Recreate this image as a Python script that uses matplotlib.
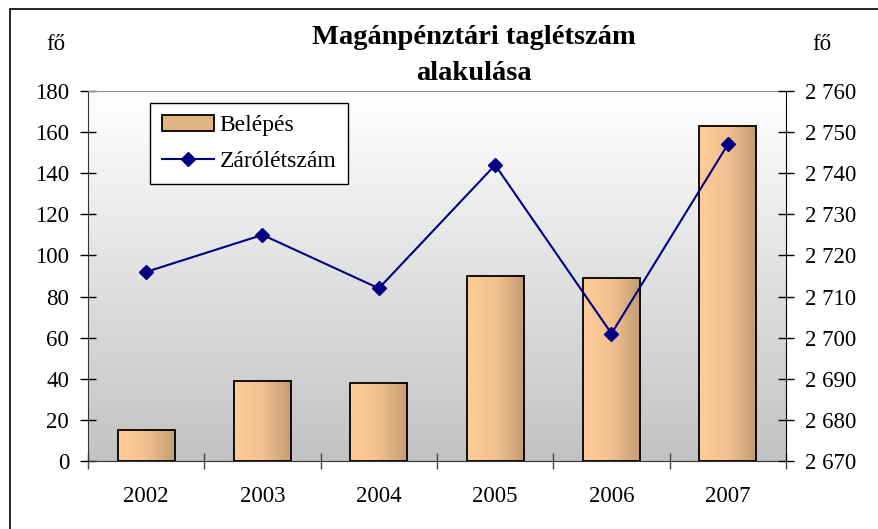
import matplotlib
matplotlib.use("Agg")
import matplotlib.pyplot as plt
import numpy as np
from matplotlib.patches import Patch, Rectangle
from matplotlib.lines import Line2D
from matplotlib.colors import LinearSegmentedColormap

years = ["2002", "2003", "2004", "2005", "2006", "2007"]
belepes = [15, 39, 38, 90, 89, 163]
zarolet = [2716, 2725, 2712, 2742, 2701, 2747]
left_ticks = list(range(0, 181, 20))
right_ticks = list(range(2670, 2761, 10))

plt.rcParams['font.family'] = ['Liberation Serif', 'DejaVu Serif']

fig = plt.figure(figsize=(8.79, 5.29), dpi=100)
ax = fig.add_axes([88/879, 1-461/529, 698/879, 370/529])

# outer frame
fig.patches.append(Rectangle((10/879, -0.1), 1.2, 1-9/529+0.1, transform=fig.transFigure,
                             fill=False, edgecolor='black', linewidth=1.2))

# background gradient
bg = LinearSegmentedColormap.from_list('bg', ['#C2C2C2', '#FFFFFF'])
grad = np.linspace(0, 1, 256).reshape(-1, 1)
ax.imshow(grad, cmap=bg, aspect='auto', extent=[0, 1, 0, 1], origin='lower',
          transform=ax.transAxes, zorder=0)

x = np.arange(len(years))
bars = ax.bar(x, belepes, width=0.49, facecolor='none', edgecolor='black', linewidth=1.3, zorder=3)
barcm = LinearSegmentedColormap.from_list('bar', ['#FFCC99', '#F2C08F', '#C29A72'])
hgrad = np.linspace(0, 1, 256).reshape(1, -1)
for b in bars:
    ax.imshow(hgrad, cmap=barcm, aspect='auto',
              extent=[b.get_x(), b.get_x()+b.get_width(), 0, b.get_height()],
              origin='lower', zorder=2)

fs = 16.5
ax.set_xlim(-0.5, len(years)-0.5)
ax.set_ylim(0, 180)
ax.set_yticks(left_ticks)
ax.set_xticks(x)
ax.set_xticklabels(years)
ax.set_xticks(np.arange(-0.5, len(years), 1.0), minor=True)
ax.tick_params(axis='x', which='major', length=0, pad=18, labelsize=fs)
ax.tick_params(axis='x', which='minor', direction='inout', length=11, width=1, color='#444444')
ax.tick_params(axis='y', direction='inout', length=11, width=1, pad=8, labelsize=fs)
for s in ['left', 'bottom']:
    ax.spines[s].set_color('#333333')
ax.spines['top'].set_color('#909090')
ax.spines['right'].set_visible(False)

ax2 = ax.twinx()
ax2.plot(x, zarolet, color='#000080', linewidth=1.5, marker='D', markersize=7, zorder=5)
ax2.set_ylim(2670, 2760)
ax2.set_yticks(right_ticks)
ax2.set_yticklabels([f"{t//1000} {t%1000:03d}" for t in right_ticks])
ax2.tick_params(axis='y', direction='inout', length=11, width=1, pad=8.5, labelsize=fs)
for s in ['left', 'top', 'bottom']:
    ax2.spines[s].set_visible(False)
ax2.spines['right'].set_color('black')

handles = [Patch(facecolor='#E2B484', edgecolor='black', linewidth=1.3),
           Line2D([0], [0], color='#000080', linewidth=1.5, marker='D', markersize=7)]
leg = ax2.legend(handles, ['Belépés', 'Zárólétszám'], loc='upper left',
                 bbox_to_anchor=(0.089, 0.968), borderaxespad=0, fancybox=False,
                 frameon=True, edgecolor='black', facecolor='white', framealpha=1,
                 fontsize=17, handlelength=2.2, handletextpad=0.25, borderpad=0.5,
                 labelspacing=0.6)
leg.get_frame().set_linewidth(1)

fig.text(474/879, 1-38/529, 'Magánpénztári taglétszám', ha='center', va='center',
         fontsize=20.5, fontweight='bold')
fig.text(474/879, 1-73/529, 'alakulása', ha='center', va='center',
         fontsize=20.5, fontweight='bold')
fig.text(56/879, 1-44/529, 'fő', ha='center', va='center', fontsize=fs)
fig.text(822/879, 1-44/529, 'fő', ha='center', va='center', fontsize=fs)

fig.savefig('out.png', dpi=100)
